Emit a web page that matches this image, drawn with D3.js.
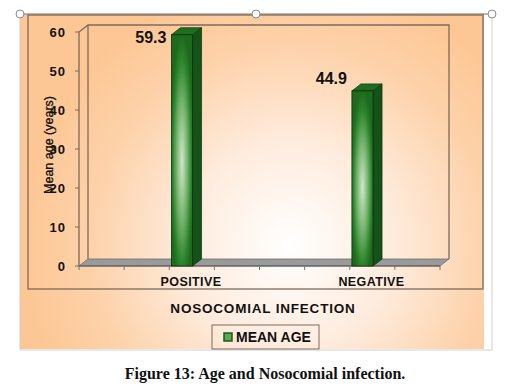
<!DOCTYPE html>
<html>
<head>
<meta charset="utf-8">
<script src="https://cdn.jsdelivr.net/npm/d3@7"></script>
<style>
  body { margin: 0; background: #fff; }
  text { fill: #111; }
</style>
</head>
<body>
<script>
// Mean age by nosocomial infection status
const categories = ['POSITIVE', 'NEGATIVE']
const meanAge = [59.3, 44.9]
const yTicks = [0, 10, 20, 30, 40, 50, 60]
const seriesName = 'MEAN AGE'

const W = 515, H = 387
const depthX = 9, depthY = 7
const sans = 'Arial, "Liberation Sans", sans-serif'

const svg = d3.select('body').append('svg')
  .attr('width', W)
  .attr('height', H)
  .style('font-family', sans)

const defs = svg.append('defs')

// background glow
const bg = defs.append('radialGradient')
  .attr('id', 'bgGrad')
  .attr('gradientUnits', 'userSpaceOnUse')
  .attr('cx', 290).attr('cy', 245).attr('r', 265)
bg.append('stop').attr('offset', 0).attr('stop-color', '#ffffff')
bg.append('stop').attr('offset', 0.4).attr('stop-color', '#feebdc')
bg.append('stop').attr('offset', 0.75).attr('stop-color', '#fdd2aa')
bg.append('stop').attr('offset', 1).attr('stop-color', '#fdc795')

// bar front face
const bf = defs.append('radialGradient')
  .attr('id', 'barFront')
  .attr('cx', 0.5).attr('cy', 0.55).attr('r', 0.55)
bf.append('stop').attr('offset', 0).attr('stop-color', '#cfe7cb')
bf.append('stop').attr('offset', 0.45).attr('stop-color', '#79b571')
bf.append('stop').attr('offset', 0.8).attr('stop-color', '#2d842d')
bf.append('stop').attr('offset', 1).attr('stop-color', '#1d6a1d')

// chart area
svg.append('rect')
  .attr('x', 20).attr('y', 14)
  .attr('width', 464).attr('height', 335)
  .attr('fill', 'url(#bgGrad)')

// selection frame
svg.append('rect')
  .attr('x', 20).attr('y', 14)
  .attr('width', 472).attr('height', 336)
  .attr('fill', 'none')
  .attr('stroke', '#d0d0d0')
svg.append('line')
  .attr('x1', 20).attr('x2', 492).attr('y1', 14).attr('y2', 14)
  .attr('stroke', '#8a8a8a')

// plot area frame
svg.append('rect')
  .attr('x', 28).attr('y', 15)
  .attr('width', 455).attr('height', 274)
  .attr('fill', 'none')
  .attr('stroke', '#7d6a5c')
  .attr('stroke-width', 1.3)

// scales
const y = d3.scaleLinear().domain([0, 60]).range([266, 32])
const x = d3.scaleBand().domain(categories).range([79, 440])
const barW = x.bandwidth() * 0.117
const barX = (c) => x(c) + x.bandwidth() * 0.512
const x0 = 79, x1 = 440

// floor
svg.append('polygon')
  .attr('points', [[x0, y(0)], [x1, y(0)], [x1 + depthX, y(0) - depthY], [x0 + depthX, y(0) - depthY]].join(' '))
  .attr('fill', '#9a9a9a')
  .attr('stroke', '#6f6f6f')
  .attr('stroke-width', 0.8)
svg.append('line')
  .attr('x1', x0).attr('x2', x1).attr('y1', y(0)).attr('y2', y(0))
  .attr('stroke', '#555').attr('stroke-width', 1.2)

// walls
const wallStroke = '#7d6a5c'
svg.append('path')
  .attr('d', `M${x0},${y(0)}V${y(60)}L${x0 + depthX},${y(60) - depthY}H${x1 + depthX}V${y(0) - depthY}`)
  .attr('fill', 'none')
  .attr('stroke', wallStroke)
  .attr('stroke-width', 1.3)
svg.append('line')
  .attr('x1', x0 + depthX).attr('x2', x0 + depthX)
  .attr('y1', y(60) - depthY).attr('y2', y(0) - depthY)
  .attr('stroke', wallStroke).attr('stroke-width', 1.3)

// y ticks
const yt = svg.selectAll('.ytick').data(yTicks).enter().append('g').attr('class', 'ytick')
yt.append('line')
  .attr('x1', x0 - 4).attr('x2', x0)
  .attr('y1', (d) => y(d)).attr('y2', (d) => y(d))
  .attr('stroke', wallStroke)
yt.append('text')
  .attr('x', 66)
  .attr('y', (d) => y(d))
  .attr('dy', '0.36em')
  .attr('text-anchor', 'end')
  .attr('font-size', 13)
  .attr('letter-spacing', 1)
  .attr('font-weight', 'bold')
  .text((d) => d)

// floor tick marks
const xTickScale = d3.scaleLinear().domain([0, 8]).range([x0, x1])
svg.selectAll('.xtick').data(d3.range(9)).enter().append('line')
  .attr('class', 'xtick')
  .attr('x1', (d) => xTickScale(d)).attr('x2', (d) => xTickScale(d))
  .attr('y1', y(0)).attr('y2', y(0) + 4)
  .attr('stroke', '#777')

// y title
svg.append('text')
  .attr('transform', 'translate(49,145) rotate(-90)')
  .attr('text-anchor', 'middle')
  .attr('dy', '0.35em')
  .attr('font-size', 12.5)
  .attr('stroke', '#111').attr('stroke-width', 0.3)
  .text('Mean age (years)')

// bars
const bars = svg.selectAll('.bar').data(categories).enter().append('g').attr('class', 'bar')
bars.append('polygon') // side
  .attr('points', (c, i) => {
    const bx = barX(c) + barW, top = y(meanAge[i])
    return [[bx, top], [bx + depthX, top - depthY], [bx + depthX, y(0) - depthY], [bx, y(0)]].join(' ')
  })
  .attr('fill', '#14521a')
  .attr('stroke', '#0b300b').attr('stroke-width', 0.7)
bars.append('polygon') // top
  .attr('points', (c, i) => {
    const bx = barX(c), top = y(meanAge[i])
    return [[bx, top], [bx + depthX, top - depthY], [bx + barW + depthX, top - depthY], [bx + barW, top]].join(' ')
  })
  .attr('fill', '#1f6d20')
  .attr('stroke', '#0b300b').attr('stroke-width', 0.7)
bars.append('rect') // front
  .attr('x', (c) => barX(c))
  .attr('y', (c, i) => y(meanAge[i]))
  .attr('width', barW)
  .attr('height', (c, i) => y(0) - y(meanAge[i]))
  .attr('fill', 'url(#barFront)')
  .attr('stroke', '#0b300b').attr('stroke-width', 0.8)

// value labels
bars.append('text')
  .attr('x', (c) => barX(c) - 5)
  .attr('y', (c, i) => Math.max(y(meanAge[i]) - depthY, 43))
  .attr('text-anchor', 'end')
  .attr('font-size', 16)
  .attr('font-weight', 'bold')
  .text((c, i) => meanAge[i])

// category labels
svg.selectAll('.cat').data(categories).enter().append('text')
  .attr('class', 'cat')
  .attr('x', (c) => barX(c) + barW / 2 + depthX)
  .attr('y', 281)
  .attr('dy', '0.36em')
  .attr('text-anchor', 'middle')
  .attr('font-size', 12.5)
  .attr('letter-spacing', 0.4)
  .attr('font-weight', 'bold')
  .text((c) => c)

// x title
svg.append('text')
  .attr('x', 263).attr('y', 308)
  .attr('dy', '0.36em')
  .attr('text-anchor', 'middle')
  .attr('font-size', 13.5)
  .attr('letter-spacing', 0.8)
  .attr('font-weight', 'bold')
  .text('NOSOCOMIAL INFECTION')

// legend
const lg = svg.append('g')
lg.append('rect')
  .attr('x', 212).attr('y', 325)
  .attr('width', 107).attr('height', 24)
  .attr('fill', 'none')
  .attr('stroke', '#7d6a5c')
lg.append('rect')
  .attr('x', 224).attr('y', 333)
  .attr('width', 8).attr('height', 8)
  .attr('fill', '#5aa84f')
  .attr('stroke', '#1d5a1d').attr('stroke-width', 1.5)
lg.append('text')
  .attr('x', 236).attr('y', 337)
  .attr('dy', '0.36em')
  .attr('font-size', 14)
  .attr('font-weight', 'bold')
  .text(seriesName)

// selection handles
svg.selectAll('.handle').data([20, 256, 492]).enter().append('circle')
  .attr('class', 'handle')
  .attr('cx', (d) => d).attr('cy', 14).attr('r', 4)
  .attr('fill', '#fff')
  .attr('stroke', '#8a8a8a')

// caption
svg.append('text')
  .attr('x', 265).attr('y', 373)
  .attr('dy', '0.35em')
  .attr('text-anchor', 'middle')
  .style('font-family', '"Liberation Serif", "DejaVu Serif", serif')
  .attr('font-size', 16)
  .attr('font-weight', 'bold')
  .text('Figure 13: Age and Nosocomial infection.')
</script>
</body>
</html>
